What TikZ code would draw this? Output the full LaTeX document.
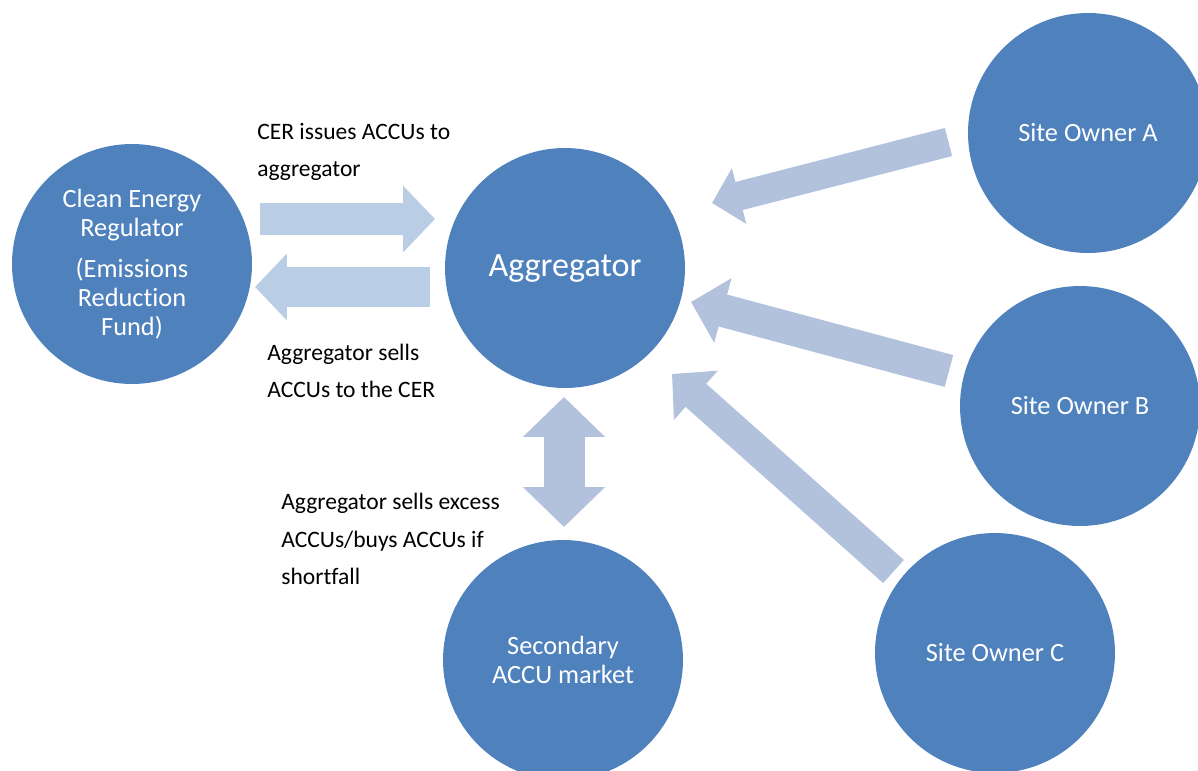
\documentclass[tikz,border=0pt]{standalone}
\usepackage{fontspec}
\setmainfont{Carlito}[Ligatures=NoCommon]
\usetikzlibrary{arrows.meta}
\definecolor{bubble}{HTML}{4F81BD}
\definecolor{pale}{HTML}{B9CDE5}
\definecolor{greyblue}{HTML}{B2C2DD}

\begin{document}
\begin{tikzpicture}[x=0.02cm, y=-0.02cm,
    bubble/.style={circle, fill=bubble, text=white, minimum size=4.8cm,
      inner sep=0pt, align=center, font=\fontsize{15}{16.6}\selectfont},
    note/.style={anchor=west, align=left, inner sep=0pt,
      font=\fontsize{13.4}{21.5}\selectfont},
    flow/.style n args={4}{draw=#1, line width=#2,
      -{Triangle[width=#3, length=#4]}}]
  \useasboundingbox (0,0) rectangle (1198,771);
  \clip (0,0) rectangle (1198,771);

  % circles
  \node[bubble] (cer) at (132,264)
    {Clean Energy\\Regulator\\[6.8pt](Emissions\\Reduction\\Fund)};
  \node[bubble, font=\fontsize{19.4}{23}\selectfont] (agg) at (565,268) {\raisebox{-2pt}{Aggregator}};
  \node[bubble] (siteA) at (1088,133) {Site Owner A};
  \node[bubble] (siteB) at (1080,406) {Site Owner B};
  \node[bubble] (siteC) at (995,653) {Site Owner C};
  \node[bubble] (market) at (563,660) {Secondary\\ACCU market};

  % arrow ends
  \coordinate (issue0) at (260,219);
  \coordinate (issue1) at (435,219);
  \coordinate (sell0) at (430,287);
  \coordinate (sell1) at (255,287);
  \coordinate (trade0) at (564,397);
  \coordinate (trade1) at (564,527);
  \coordinate (fromA) at (948.5,142);
  \coordinate (toA) at (712,203);
  \coordinate (fromB) at (949,371);
  \coordinate (toB) at (691,302);
  \coordinate (fromC) at (893.5,571.5);
  \coordinate (toC) at (672,374);

  \draw[flow={pale}{0.64cm}{1.3cm}{0.64cm}] (issue0) -- (issue1);
  \draw[flow={pale}{0.8cm}{1.3cm}{0.64cm}] (sell0) -- (sell1);
  \draw[flow={greyblue}{0.82cm}{1.6cm}{0.8cm},
    {Triangle[width=1.6cm, length=0.8cm]}-{Triangle[width=1.6cm, length=0.8cm]}]
    (trade0) -- (trade1);
  \draw[flow={greyblue}{0.58cm}{1.12cm}{0.56cm}] (fromA) -- (toA);
  \draw[flow={greyblue}{0.66cm}{1.3cm}{0.66cm}] (fromB) -- (toB);
  \draw[flow={greyblue}{0.62cm}{1.28cm}{0.64cm}] (fromC) -- (toC);

  % labels
  \node[note] (issueText) at (257,152) {CER issues ACCUs to\\aggregator};
  \node[note] (sellText) at (267,371) {Aggregator sells\\ACCUs to the CER};
  \node[note] (tradeText) at (281,539)
    {Aggregator sells excess\\ACCUs/buys ACCUs if\\shortfall};
\end{tikzpicture}
\end{document}
